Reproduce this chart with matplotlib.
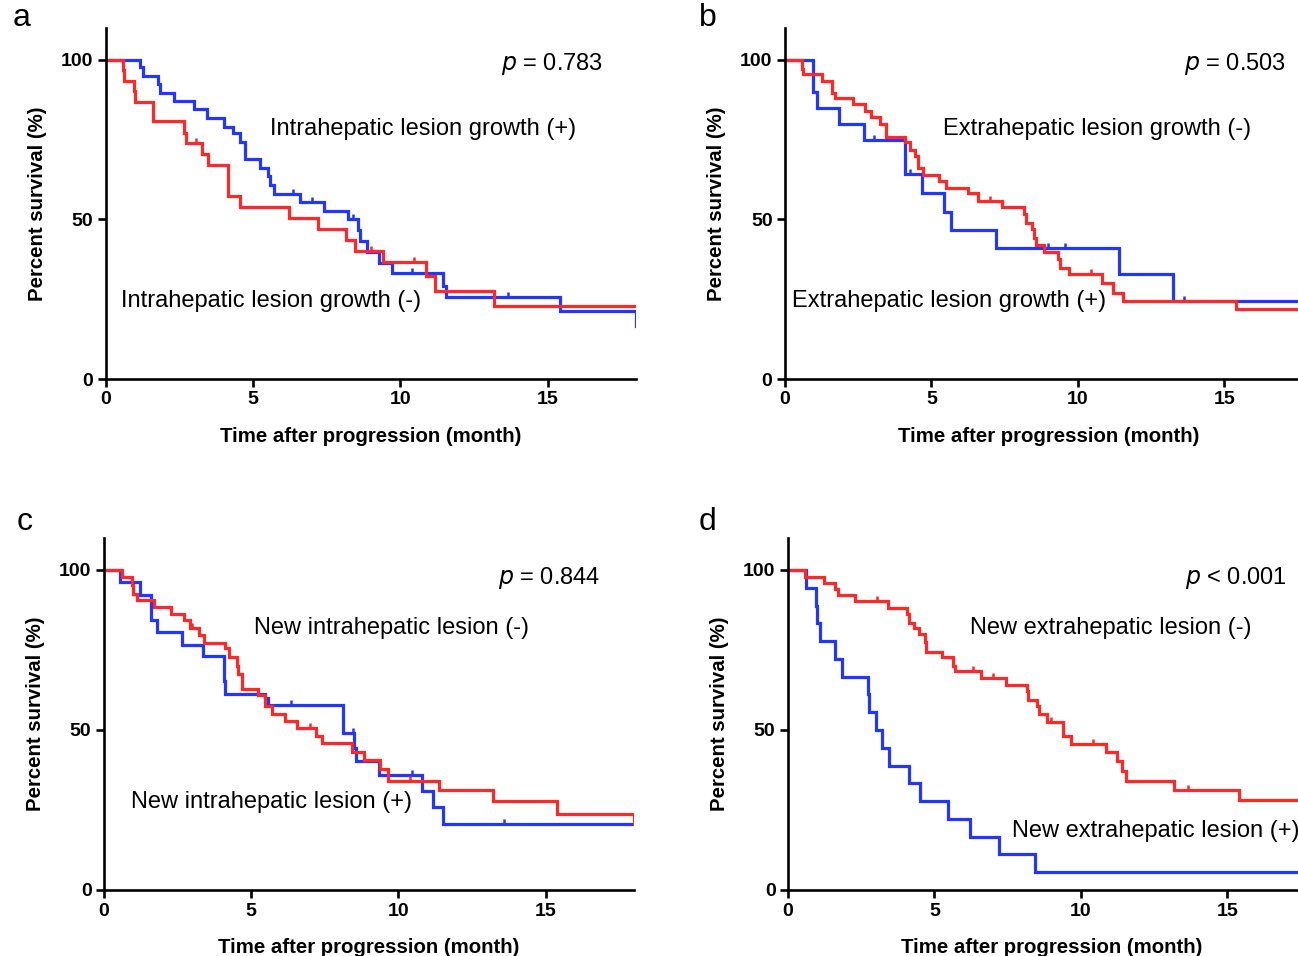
import numpy as np
import matplotlib.pyplot as plt
from matplotlib.path import Path

plt.rcParams.update({
    "font.family": ["Liberation Sans", "DejaVu Sans"],
    "font.size": 12,
    "axes.linewidth": 1.9,
})

BLUE = "#2236ff"
RED = "#ff2828"

# Panel a: intrahepatic lesion growth (blue = +, red = -)
a_blue_t = [1.17, 1.25, 1.76, 1.84, 2.31, 2.98, 3.42, 4.01, 4.30, 4.54, 4.71, 5.24, 5.50, 5.56,
            5.71, 6.59, 7.41, 8.21, 8.56, 8.64, 8.87, 9.28, 9.70, 11.45, 11.55, 15.42, 18.0]
a_blue_s = [97.8, 94.9, 92.6, 89.5, 87.1, 84.5, 81.9, 79.1, 77.0, 74.4, 69.0, 66.1, 63.5, 60.7,
            58.1, 55.4, 52.6, 50.0, 46.6, 43.2, 39.9, 36.5, 33.1, 29.2, 25.6, 21.2, 16.7]
a_blue_c = [6.35, 7.0, 8.4, 10.4, 13.66]
a_red_t = [0.59, 0.61, 0.96, 1.0, 1.61, 2.66, 2.72, 3.25, 3.45, 4.13, 4.15, 4.54, 6.21, 7.20,
           8.14, 8.44, 9.40, 10.87, 11.18, 13.19]
a_red_s = [96.8, 93.3, 90.2, 86.9, 80.7, 77.0, 73.9, 70.5, 67.2, 60.4, 57.3, 54.0, 50.5, 46.9,
           43.5, 40.1, 36.8, 32.3, 27.7, 22.8]
a_red_c = [3.07, 8.99, 10.46]

# Panel b: extrahepatic lesion growth (blue = +, red = -)
b_blue_t = [0.97, 1.10, 1.85, 2.69, 4.09, 4.69, 5.43, 5.68, 7.22, 11.42, 13.24]
b_blue_s = [90.0, 84.8, 79.8, 74.8, 64.2, 58.3, 52.4, 46.6, 41.0, 32.8, 24.5]
b_blue_c = [3.05, 4.26, 8.98, 9.55, 13.64]
b_red_t = [0.57, 0.60, 1.25, 1.59, 1.70, 2.31, 2.73, 2.95, 3.24, 3.44, 4.09, 4.26, 4.43, 4.55,
           4.72, 5.26, 5.51, 6.25, 6.59, 7.42, 8.16, 8.24, 8.43, 8.52, 8.58, 8.86, 9.32, 9.40,
           9.69, 10.83, 11.19, 11.53, 15.40]
b_red_s = [97.3, 95.7, 93.3, 89.5, 88.1, 86.1, 84.0, 82.2, 79.8, 75.9, 74.4, 71.8, 69.8, 66.1,
           64.0, 62.2, 59.9, 58.3, 55.9, 53.8, 51.6, 49.0, 46.9, 44.3, 42.0, 39.9, 37.5, 34.9,
           32.8, 30.2, 27.1, 24.5, 21.9]
b_red_c = [6.99, 10.45]

# Panel c: new intrahepatic lesion (blue = +, red = -)
c_blue_t = [0.53, 1.23, 1.58, 1.80, 2.66, 3.35, 4.07, 4.11, 5.46, 5.58, 8.13, 8.49, 8.57, 9.35,
            10.80, 11.19, 11.50]
c_blue_s = [96.1, 92.1, 84.4, 80.7, 76.6, 73.0, 65.2, 61.3, 60.0, 57.8, 49.2, 44.5, 40.4, 36.0,
            30.8, 25.9, 20.7]
c_blue_c = [6.34, 8.45, 10.45, 13.6]
c_red_t = [0.62, 0.94, 0.97, 1.11, 1.70, 2.29, 2.73, 2.93, 3.23, 3.40, 4.11, 4.26, 4.50, 4.55,
           4.69, 5.22, 5.46, 5.69, 6.16, 6.57, 7.19, 7.39, 8.43, 8.84, 9.39, 9.66, 11.38, 13.20,
           15.38, 18.0]
c_red_s = [97.8, 95.2, 92.6, 90.6, 88.5, 86.1, 84.4, 82.0, 79.7, 77.1, 75.6, 72.7, 69.9, 67.5,
           62.9, 60.9, 57.5, 55.1, 52.8, 50.7, 48.1, 45.8, 43.0, 40.6, 37.8, 34.2, 31.1, 27.7,
           23.8, 20.7]
c_red_c = [3.0, 6.98, 10.39]

# Panel d: new extrahepatic lesion (blue = +, red = -)
d_blue_t = [0.60, 0.94, 0.98, 1.11, 1.59, 1.85, 2.72, 2.76, 2.99, 3.21, 3.44, 4.12, 4.52, 5.48,
            6.20, 7.22, 8.43]
d_blue_s = [94.4, 88.9, 83.3, 77.8, 72.2, 66.7, 61.1, 55.6, 50.0, 44.4, 38.9, 33.3, 27.8, 22.2,
            16.7, 11.1, 5.6]
d_blue_c = []
d_red_t = [0.57, 1.23, 1.59, 1.70, 2.30, 3.41, 4.06, 4.12, 4.29, 4.46, 4.69, 4.72, 5.26, 5.65,
           5.71, 6.59, 7.45, 8.15, 8.21, 8.49, 8.58, 8.83, 9.38, 9.40, 9.68, 10.85, 11.24, 11.42,
           11.56, 13.20, 15.41]
d_red_s = [97.8, 95.8, 94.2, 92.1, 90.3, 88.2, 86.4, 83.3, 81.8, 79.9, 77.6, 74.5, 72.7, 69.9,
           68.3, 66.3, 64.2, 62.1, 59.5, 57.5, 54.9, 52.6, 50.2, 48.1, 45.5, 43.0, 40.2, 37.3,
           34.2, 31.3, 28.2]
d_red_c = [3.04, 6.33, 7.01, 8.97, 10.42, 13.65]

letters = ["a", "b", "c", "d"]
p_texts = ["= 0.783", "= 0.503", "= 0.844", "< 0.001"]
upper_labels = ["Intrahepatic lesion growth (+)", "Extrahepatic lesion growth (-)",
                "New intrahepatic lesion (-)", "New extrahepatic lesion (-)"]
lower_labels = ["Intrahepatic lesion growth (-)", "Extrahepatic lesion growth (+)",
                "New intrahepatic lesion (+)", "New extrahepatic lesion (+)"]
upper_xy = [(5.58, 78.2), (5.39, 78.2), (5.1, 81.9), (6.21, 81.9)]
lower_xy = [(0.51, 24.6), (0.24, 24.6), (0.92, 27.4), (7.65, 18.4)]
p_xy = [(16.87, 98.8), (17.13, 98.8), (16.87, 97.5), (17.03, 97.5)]

panels = [
    (a_blue_t, a_blue_s, a_blue_c, a_red_t, a_red_s, a_red_c),
    (b_blue_t, b_blue_s, b_blue_c, b_red_t, b_red_s, b_red_c),
    (c_blue_t, c_blue_s, c_blue_c, c_red_t, c_red_s, c_red_c),
    (d_blue_t, d_blue_s, d_blue_c, d_red_t, d_red_s, d_red_c),
]

# axes rectangles in figure fractions (right column runs past the figure edge, as cropped)
W, H = 1298, 956
rects = [
    (106 / W, 577 / H, 530 / W, 351 / H),
    (785 / W, 577 / H, 527 / W, 351 / H),
    (104 / W, 66 / H, 530 / W, 352 / H),
    (788 / W, 66 / H, 527 / W, 352 / H),
]
letter_pos = [(22, 18), (708, 18), (25, 522), (708, 522)]

# censor mark: short tick pointing up from the curve
CENSOR = Path([(0, 0), (0, 1)], [Path.MOVETO, Path.LINETO])


def km(ax, t, s, cens, color):
    xs = np.r_[0.0, t, 18.0]
    ys = np.r_[100.0, s, s[-1]]
    ax.step(xs, ys, where="post", color=color, lw=2.3, solid_joinstyle="miter")
    if len(cens):
        idx = np.searchsorted(xs, cens, side="right") - 1
        ax.plot(cens, ys[idx], ls="none", marker=CENSOR, ms=7, mew=1.8, color=color)


fig = plt.figure(figsize=(W / 100, H / 100), dpi=100)
for i, (bt, bs, bc, rt, rs, rc) in enumerate(panels):
    ax = fig.add_axes(rects[i])
    km(ax, bt, bs, bc, BLUE)
    km(ax, rt, rs, rc, RED)
    ax.set_xlim(0, 18)
    ax.set_ylim(0, 110)
    ax.set_xticks([0, 5, 10, 15])
    ax.set_yticks([0, 50, 100])
    ax.spines[["top", "right"]].set_visible(False)
    ax.tick_params(direction="out", length=6, width=1.9, labelsize=14, pad=3)
    for lab in ax.get_xticklabels() + ax.get_yticklabels():
        lab.set_fontweight("bold")
    ax.set_xlabel("Time after progression (month)", fontsize=14.7, fontweight="bold", labelpad=13)
    ax.set_ylabel("Percent survival (%)", fontsize=14.7, fontweight="bold", labelpad=10)
    ax.text(*upper_xy[i], upper_labels[i], fontsize=17, va="center", ha="left")
    ax.text(*lower_xy[i], lower_labels[i], fontsize=17, va="center", ha="left")
    ax.text(*p_xy[i], r"$\it{p}$ " + p_texts[i], fontsize=17, va="center", ha="right")
    fig.text(letter_pos[i][0] / W, 1 - letter_pos[i][1] / H, letters[i], fontsize=23,
             va="center", ha="center")

fig.savefig("out.png", dpi=100)
